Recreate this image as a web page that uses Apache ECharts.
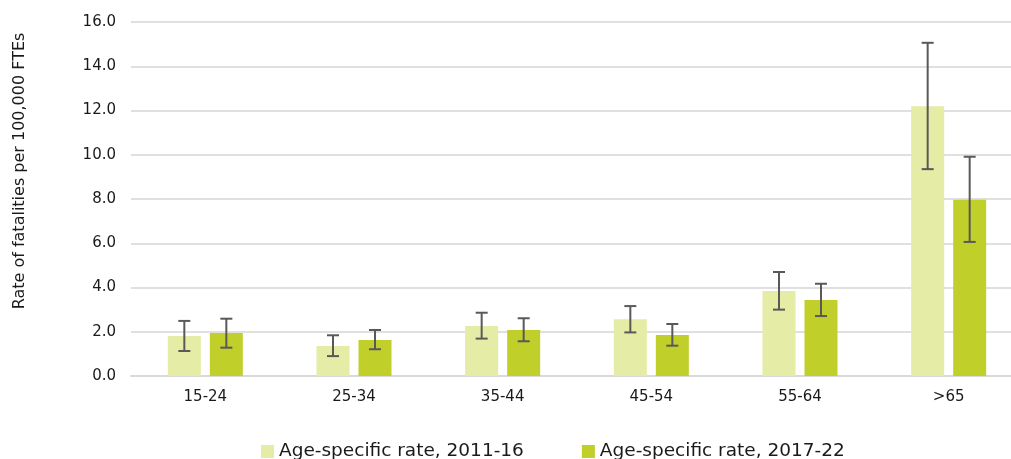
<!DOCTYPE html>
<html>
<head>
<meta charset="utf-8">
<title>Age-specific fatality rates</title>
<script src="https://cdn.jsdelivr.net/npm/echarts@6/dist/echarts.min.js"></script>
<style>
  html, body { margin: 0; padding: 0; background: #fff; overflow: hidden; }
  /* the plot runs slightly past the right edge of the window */
  #chart { width: 1023px; height: 459px; }
</style>
</head>
<body>
<div id="chart"></div>
<script>
// Age groups
const categories = ['15-24', '25-34', '35-44', '45-54', '55-64', '>65'];

// Rate of fatalities per 100,000 FTEs, 2011-16, with confidence limits
const rate2011 = [1.81, 1.36, 2.26, 2.56, 3.84, 12.19];
const low2011  = [1.13, 0.90, 1.69, 1.97, 3.00, 9.35];
const high2011 = [2.49, 1.84, 2.86, 3.16, 4.70, 15.06];

// Rate of fatalities per 100,000 FTEs, 2017-22, with confidence limits
const rate2017 = [1.94, 1.63, 2.08, 1.85, 3.43, 7.97];
const low2017  = [1.28, 1.21, 1.57, 1.37, 2.71, 6.06];
const high2017 = [2.59, 2.08, 2.61, 2.35, 4.17, 9.91];

// Y axis ticks
const yTicks = { min: 0, max: 16, interval: 2 };

const seriesNames = ['Age-specific rate, 2011-16', 'Age-specific rate, 2017-22'];
const colors = ['#e5eca6', '#c1cf2b'];
const BAR_W = 33;
const BAR_GAP = 9;
const FONT = 'DejaVu Sans, Verdana, sans-serif';

function errorSeries(lows, highs, side) {
  const data = lows.map((lo, i) => [i, lo, highs[i]]);
  return {
    type: 'custom',
    name: 'err' + side,
    z: 5,
    silent: true,
    clip: false,
    renderItem: function (params, api) {
      const i = api.value(0);
      const lo = api.coord([i, api.value(1)]);
      const hi = api.coord([i, api.value(2)]);
      const x = lo[0] + side * (BAR_W + BAR_GAP) / 2;
      const cap = 6;
      const style = { stroke: '#595959', lineWidth: 2 };
      return {
        type: 'group',
        children: [
          { type: 'line', shape: { x1: x, y1: hi[1], x2: x, y2: lo[1] }, style: style },
          { type: 'line', shape: { x1: x - cap, y1: hi[1], x2: x + cap, y2: hi[1] }, style: style },
          { type: 'line', shape: { x1: x - cap, y1: lo[1], x2: x + cap, y2: lo[1] }, style: style }
        ]
      };
    },
    encode: { x: 0, y: [1, 2] },
    data: data
  };
}

const chart = echarts.init(document.getElementById('chart'), null, { renderer: 'canvas' });

chart.setOption({
  animation: false,
  backgroundColor: '#ffffff',
  grid: { left: 131, right: 0, top: 22, bottom: 83, containLabel: false },
  legend: {
    data: seriesNames,
    left: 256,
    top: 437,
    itemWidth: 13,
    itemHeight: 13,
    itemGap: 58,
    icon: 'rect',
    textStyle: { fontFamily: FONT, fontSize: 18.5, color: '#1a1a1a' }
  },
  graphic: [{
    type: 'text',
    x: 20,
    y: 171,
    rotation: Math.PI / 2,
    style: {
      text: 'Rate of fatalities per 100,000 FTEs',
      fontFamily: FONT,
      fontSize: 16,
      fill: '#1a1a1a',
      align: 'center',
      verticalAlign: 'middle'
    }
  }],
  xAxis: {
    type: 'category',
    data: categories,
    axisLine: { show: true, lineStyle: { color: '#d9d9d9', width: 2 } },
    axisTick: { show: false },
    axisLabel: { fontFamily: FONT, fontSize: 15, color: '#1a1a1a', margin: 14 }
  },
  yAxis: {
    type: 'value',
    min: yTicks.min,
    max: yTicks.max,
    interval: yTicks.interval,
    axisLine: { show: false },
    axisTick: { show: false },
    axisLabel: {
      fontFamily: FONT, fontSize: 15, color: '#1a1a1a', margin: 15,
      formatter: v => v.toFixed(1)
    },
    splitLine: { lineStyle: { color: '#e0e0e0', width: 2 } }
  },
  series: [
    {
      name: seriesNames[0],
      type: 'bar',
      data: rate2011,
      barWidth: BAR_W,
      barGap: (BAR_GAP / BAR_W * 100) + '%',
      itemStyle: { color: colors[0] }
    },
    {
      name: seriesNames[1],
      type: 'bar',
      data: rate2017,
      barWidth: BAR_W,
      itemStyle: { color: colors[1] }
    },
    errorSeries(low2011, high2011, -1),
    errorSeries(low2017, high2017, 1)
  ]
});
</script>
</body>
</html>
